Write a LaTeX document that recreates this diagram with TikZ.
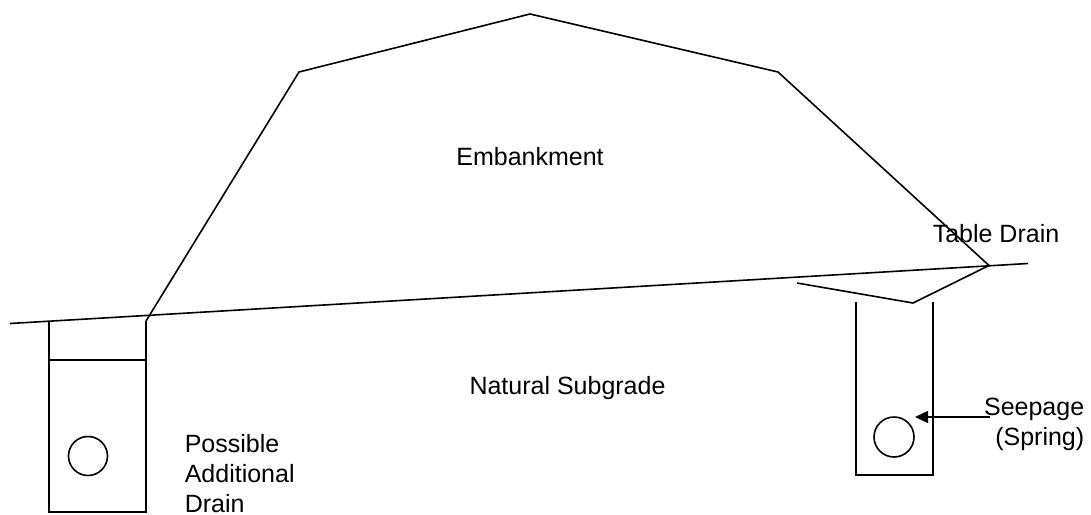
\documentclass[tikz,border=0pt]{standalone}
\usepackage{fontspec}
\setmainfont{Liberation Sans}
\usetikzlibrary{arrows.meta}
\begin{document}
\begin{tikzpicture}[x=1pt,y=-1pt, line width=1.6pt, line join=miter,
  lbl/.style={font=\fontsize{25}{30}\selectfont, inner sep=0pt},
  pipe/.style={circle, draw, line width=1.6pt, minimum size=39pt, inner sep=0pt}]
\useasboundingbox (0,0) rectangle (1091,514);
% ground line
\coordinate (g1) at (10,323.5);
\coordinate (g2) at (1028,263.5);
\draw (g1) -- (g2);
% embankment
\coordinate (ltoe) at (146,321);
\coordinate (lsh) at (299,72);
\coordinate (apex) at (530,14);
\coordinate (rsh) at (778,72);
\coordinate (rtoe) at (989,265.5);
\draw (ltoe) -- (lsh) -- (apex) -- (rsh) -- (rtoe);
% left drain
\coordinate (ld1) at (49,321.5);
\coordinate (ld2) at (49,512);
\coordinate (ld3) at (146,512);
\draw (ld1) -- (ld2) -- (ld3) -- (ltoe);
\coordinate (lm1) at (49,360);
\coordinate (lm2) at (146,360);
\draw (lm1) -- (lm2);
\node[pipe] (c1) at (88,456) {};
% table drain
\coordinate (td1) at (797,283);
\coordinate (td2) at (913,303);
\draw (td1) -- (td2) -- (rtoe);
% right drain
\coordinate (rd1) at (856,302);
\coordinate (rd2) at (856,475);
\coordinate (rd3) at (933,475);
\coordinate (rd4) at (933,302);
\draw (rd1) -- (rd2) -- (rd3) -- (rd4);
\node[pipe, minimum size=40pt] (c2) at (894,437) {};
% seepage arrow
\coordinate (as) at (990,417);
\coordinate (at) at (915,417);
\draw[-{Triangle[length=13pt,width=12pt]}] (as) -- (at);
% labels
\node[lbl, anchor=base] (emb) at (530,165) {Embankment};
\node[lbl, anchor=base] (nat) at (567.5,394.5) {Natural Subgrade};
\node[lbl, anchor=base west] (tab) at (932,242) {Table Drain};
\node[lbl, anchor=base west, align=left] (pos) at (184,512) {Possible\\Additional\\Drain};
\node[lbl, anchor=base east, align=right] (see) at (1085,445) {Seepage\\(Spring)};
\end{tikzpicture}
\end{document}
